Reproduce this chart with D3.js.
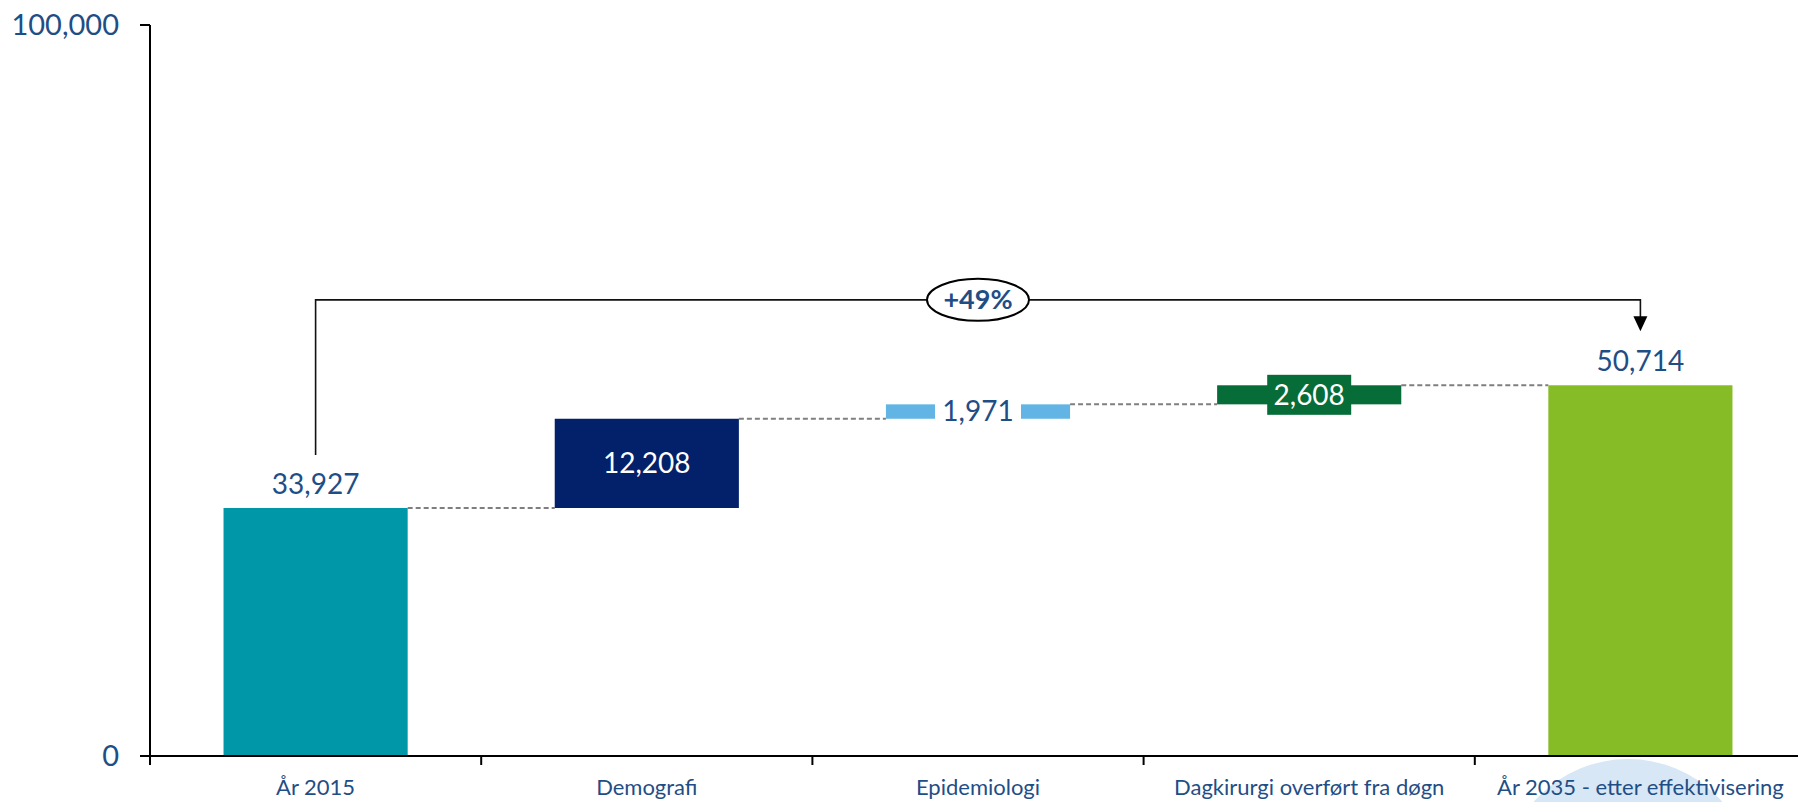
<!DOCTYPE html>
<html>
<head>
<meta charset="utf-8">
<script src="https://cdn.jsdelivr.net/npm/d3@7"></script>
<style>
  html, body { margin: 0; padding: 0; background: #fff; overflow: hidden; }
  svg { display: block; font-family: Lato, "Open Sans", sans-serif; }
</style>
</head>
<body>
<svg id="chart" width="1798" height="802"></svg>
<script>
// Waterfall: Dagkirurgi 2015 -> 2035
const categories = ["År 2015", "Demografi", "Epidemiologi", "Dagkirurgi overført fra døgn", "År 2035 - etter effektivisering"];
const values = [33927, 12208, 1971, 2608, 50714];
const barTypes = ["total", "delta", "delta", "delta", "total"];
const yTickValues = [0, 100000];
const changeText = "+49%";

const W = 1798, H = 802;
const svg = d3.select("#chart");

const TEXT_BLUE = "#1F4E86";
const fills = ["#0098A9", "#03216A", "#62B4E4", "#076D38", "#86BC25"];

const x = d3.scaleBand().domain(categories).range([150, 1806]).paddingInner(0.444).paddingOuter(0.222);
const y = d3.scaleLinear().domain([0, 100000]).range([756, 25]);
const bw = x.bandwidth();
const step = x.step();

// running totals for the floating bars
let cum = 0;
const bars = categories.map((c, i) => {
  let y0, y1;
  if (barTypes[i] === "total") { y0 = 0; y1 = values[i]; cum = values[i]; }
  else { y0 = cum; y1 = cum + values[i]; cum = y1; }
  return { cat: c, v: values[i], y0, y1, i };
});

// decorative soft circle in the lower right corner
svg.append("circle").attr("cx", 1628).attr("cy", 884).attr("r", 125).attr("fill", "#D7E7F5");

// dashed connectors between bars
const conn = svg.append("g");
for (let i = 0; i < bars.length - 1; i++) {
  conn.append("line")
    .attr("x1", x(bars[i].cat) + bw).attr("x2", x(bars[i + 1].cat))
    .attr("y1", y(bars[i].y1)).attr("y2", y(bars[i].y1))
    .attr("stroke", "#7F7F7F").attr("stroke-width", 2).attr("stroke-dasharray", "5,3");
}

// bars
svg.append("g").selectAll("rect").data(bars).join("rect")
  .attr("x", d => x(d.cat))
  .attr("width", bw)
  .attr("y", d => y(Math.max(d.y0, d.y1)))
  .attr("height", d => Math.abs(y(d.y0) - y(d.y1)))
  .attr("fill", (d, i) => fills[i]);

// axes
const axes = svg.append("g").attr("stroke", "#000").attr("stroke-width", 2);
axes.append("line").attr("x1", 150).attr("x2", 150).attr("y1", y(100000)).attr("y2", y(0) + 9);
axes.append("line").attr("x1", 140).attr("x2", W).attr("y1", y(0)).attr("y2", y(0));
yTickValues.forEach(v => {
  axes.append("line").attr("x1", 140).attr("x2", 150).attr("y1", y(v)).attr("y2", y(v));
});
for (let k = 1; k <= categories.length; k++) {
  const bx = 150 + k * step;
  axes.append("line").attr("x1", bx).attr("x2", bx).attr("y1", y(0)).attr("y2", y(0) + 9);
}

const fmt = d3.format(",");

// y tick labels
svg.append("g").selectAll("text").data(yTickValues).join("text")
  .attr("x", 119).attr("y", d => y(d)).attr("dy", "0.35em")
  .attr("text-anchor", "end").attr("font-size", 29).attr("fill", TEXT_BLUE)
  .text(d => fmt(d));

// category labels
svg.append("g").selectAll("text").data(categories).join("text")
  .attr("x", d => x(d) + bw / 2).attr("y", 795)
  .attr("text-anchor", "middle").attr("font-size", 22).attr("fill", TEXT_BLUE)
  .text(d => d);

// value labels
const lab = svg.append("g").attr("font-size", 28);
bars.forEach(d => {
  const cx = x(d.cat) + bw / 2;
  const top = y(Math.max(d.y0, d.y1));
  const mid = (y(d.y0) + y(d.y1)) / 2;
  const txt = fmt(d.v);
  if (d.i === 0 || d.i === 4) {
    lab.append("text").attr("x", cx).attr("y", top - 14).attr("text-anchor", "middle")
      .attr("fill", TEXT_BLUE).text(txt);
  } else if (d.i === 1) {
    lab.append("text").attr("x", cx).attr("y", mid).attr("dy", "0.35em").attr("text-anchor", "middle")
      .attr("fill", "#fff").text(txt);
  } else if (d.i === 2) {
    lab.append("rect").attr("x", cx - 43).attr("y", mid - 20).attr("width", 86).attr("height", 40).attr("fill", "#fff");
    lab.append("text").attr("x", cx).attr("y", mid).attr("dy", "0.35em").attr("text-anchor", "middle")
      .attr("fill", TEXT_BLUE).text(txt);
  } else {
    lab.append("rect").attr("x", cx - 42).attr("y", mid - 20).attr("width", 84).attr("height", 40).attr("fill", fills[3]);
    lab.append("text").attr("x", cx).attr("y", mid).attr("dy", "0.35em").attr("text-anchor", "middle")
      .attr("fill", "#fff").text(txt);
  }
});

// growth bracket from first to last total
const first = bars[0], last = bars[bars.length - 1];
const bx0 = x(first.cat) + bw / 2, bx1 = x(last.cat) + bw / 2;
const by = y(62400);
const yStart = y(first.y1) - 53;
const yTip = y(last.y1) - 54;
svg.append("path")
  .attr("d", `M${bx0},${yStart}V${by}H${bx1}V${yTip - 12}`)
  .attr("fill", "none").attr("stroke", "#111").attr("stroke-width", 1.6);
svg.append("path")
  .attr("d", `M${bx1 - 7},${yTip - 15}L${bx1 + 7},${yTip - 15}L${bx1},${yTip}Z`)
  .attr("fill", "#000");

const ex = (150 + 1806) / 2;
svg.append("ellipse").attr("cx", ex).attr("cy", by).attr("rx", 51).attr("ry", 21)
  .attr("fill", "#fff").attr("stroke", "#000").attr("stroke-width", 2);
svg.append("text").attr("x", ex).attr("y", by).attr("dy", "0.35em").attr("text-anchor", "middle")
  .attr("font-size", 27).attr("font-weight", "bold").attr("fill", TEXT_BLUE).text(changeText);
</script>
</body>
</html>
